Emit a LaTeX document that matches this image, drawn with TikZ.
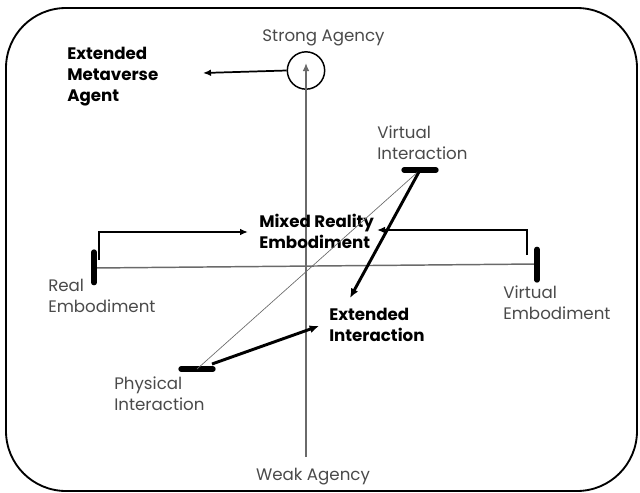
\documentclass[tikz,border=0pt]{standalone}
\usepackage{fontspec}
\setmainfont{Poppins}
\usetikzlibrary{arrows.meta}

\definecolor{labelgray}{HTML}{4A4A4A}
\definecolor{axisgray}{HTML}{6A6A6A}
\newcommand{\labelfont}{\fontsize{12.5}{15.75}\selectfont}

\begin{document}
\begin{tikzpicture}[x=0.75pt, y=-0.75pt,
    label/.style={inner sep=0, align=left, font=\labelfont, text=labelgray},
    boldlabel/.style={label, font=\labelfont\bfseries, text=black},
    axis/.style={draw=axisgray, line width=1.1pt},
    thinline/.style={draw=axisgray, line width=0.5pt},
    bar/.style={line width=4pt, line cap=round},
    bracket/.style={line width=1.3pt, -{Latex[length=6pt, width=5pt]}},
    thickarrow/.style={line width=2.2pt, -{Latex[length=7pt, width=6pt]}},
    agentarrow/.style={line width=1.3pt, -{Latex[length=6pt, width=5pt]}}]
    \useasboundingbox (0,0) rectangle (640,493);

    % Frame.
    \draw[line width=1.4pt, rounded corners=45pt] (6,8) rectangle (637,491);

    % Agency axis.
    \node[label, anchor=base] (strong) at (323.5,41) {Strong Agency};
    \node[label, anchor=base] (weak)   at (313,480) {Weak Agency};
    \node[draw, circle, line width=1.1pt, minimum size=28pt, inner sep=0] (agency) at (306,70.5) {};
    \coordinate (axisbottom) at (306,457);
    \coordinate (axistop)    at (306,63);
    \draw[axis, -{Latex[length=6pt, width=5pt]}] (axisbottom) -- (axistop);

    % Agent.
    \node[boldlabel, anchor=north west] (emagent) at (67,47) {Extended\\Metaverse\\Agent};
    \coordinate (agenttip) at (203,73);
    \draw[agentarrow] (agency.west) -- (agenttip);

    % Embodiment axis.
    \coordinate (realemb) at (94,268);
    \coordinate (virtemb) at (537,264);
    \draw[axis] (realemb) -- (virtemb);
    \draw[bar] ([yshift=-11pt]realemb) -- ([yshift=12pt]realemb);
    \draw[bar] ([yshift=-12pt]virtemb) -- ([yshift=11pt]virtemb);
    \node[label, anchor=north west] (reallabel) at (48,279) {Real\\Embodiment};
    \node[label, anchor=north west] (virtlabel) at (503,286) {Virtual\\Embodiment};

    % Mixed reality.
    \node[boldlabel, anchor=north west] (mixed) at (259,214) {Mixed Reality\\Embodiment};
    \coordinate (leftfoot)  at (99,260);
    \coordinate (lefttip)   at (248,232);
    \coordinate (rightfoot) at (527,255);
    \coordinate (righttip)  at (377,230);
    \draw[bracket] (leftfoot) |- (lefttip);
    \draw[bracket] (rightfoot) |- (righttip);

    % Interaction axis.
    \coordinate (physint) at (197,369);
    \coordinate (virtint) at (420,170);
    \draw[bar] ([xshift=-12pt]physint) -- ([xshift=12pt]physint);
    \draw[bar] ([xshift=-12pt]virtint) -- ([xshift=12pt]virtint);
    \draw[thinline] (physint) -- (virtint);
    \node[label, anchor=north west] (physlabel) at (114,377) {Physical\\Interaction};
    \node[label, anchor=north west] (vintlabel) at (377,126) {Virtual\\Interaction};

    % Extended interaction.
    \node[boldlabel, anchor=north west] (extint) at (329,308) {Extended\\Interaction};
    \coordinate (exttop)  at (350,298);
    \coordinate (extleft) at (319,326);
    \coordinate (physend) at (212,364);
    \draw[thickarrow] (virtint) -- (exttop);
    \draw[thickarrow] (physend) -- (extleft);

\end{tikzpicture}
\end{document}
